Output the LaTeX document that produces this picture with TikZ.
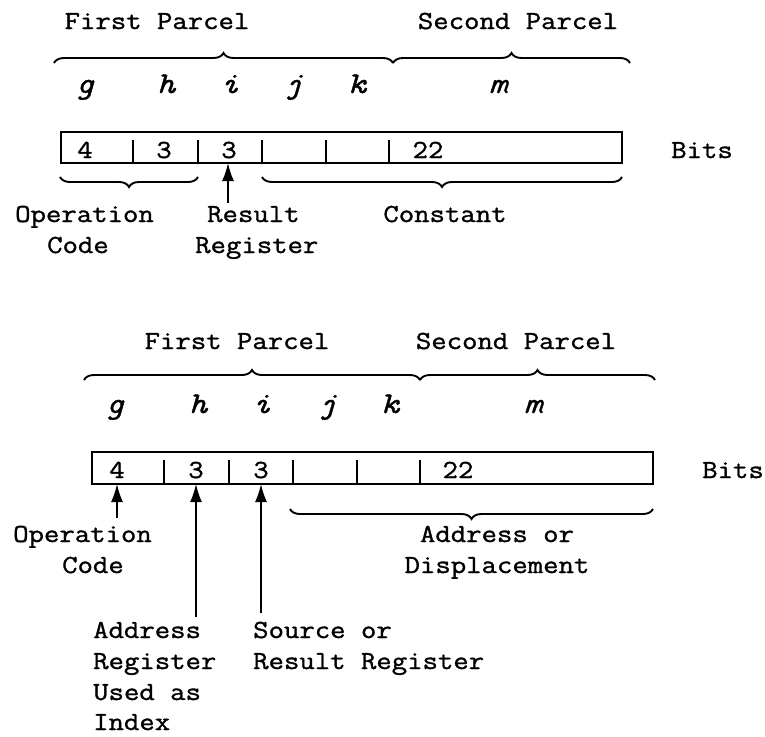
\documentclass[tikz,border=0pt]{standalone}
\usepackage{fontspec}
\setmainfont{Latin Modern Mono}[FakeStretch=1.15, FakeBold=1.2]
\usetikzlibrary{decorations.pathreplacing,arrows.meta}
\tikzset{
  txt/.style={font=\fontsize{26}{31}\selectfont, inner sep=0pt, anchor=base},
  txtw/.style={txt, anchor=base west},
  var/.style={txt, font=\fontsize{30}{34}\selectfont\itshape},
  brc/.style={decorate, decoration={brace, amplitude=10pt}, line width=1.9pt},
  boxline/.style={line width=1.6pt},
  divline/.style={line width=1.6pt},
  arr/.style={line width=1.7pt, -{Latex[length=18pt,width=12pt]}}
}
\begin{document}
\begin{tikzpicture}[x=1pt,y=-1pt]
\useasboundingbox (0,0) rectangle (765,736);
% ================= top format =================
\node[txt] (fp1) at (157,29) {First Parcel};
\node[txt] (sp1) at (518,29) {Second Parcel};
\draw[brc] (54,63) -- (393,63);
\draw[brc] (393,63) -- (630,63);
\node[var] (g1) at (85,93) {g};
\node[var] (h1) at (166,93) {h};
\node[var] (i1) at (230,93) {i};
\node[var] (j1) at (293,93) {j};
\node[var] (k1) at (357,93) {k};
\node[var] (m1) at (498,93) {m};
\draw[boxline] (61,132) rectangle (622,163);
\foreach \x in {133,198,262,326,389} \draw[divline] (\x,140) -- (\x,163);
\node[txt] (n4a) at (85,158) {4};
\node[txt] (n3a) at (164,158) {3};
\node[txt] (n3b) at (229,158) {3};
\node[txt] (n22a) at (428,158) {22};
\node[txt] (bits1) at (702,158) {Bits};
\draw[brc] (198,177) -- (60,177);
\draw[brc] (622,177) -- (262,177);
\node[txtw] (op1) at (15,222) {Operation};
\node[txtw] (cd1) at (47,253) {Code};
\node[txtw] (rs1) at (207,222) {Result};
\node[txtw] (rg1) at (195,253) {Register};
\node[txt] (cst1) at (445,222) {Constant};
\coordinate (a1s) at (228,203);
\coordinate (a1e) at (228,163);
\draw[arr] (a1s) -- (a1e);
% ================= bottom format =================
\node[txt] (fp2) at (237,349) {First Parcel};
\node[txt] (sp2) at (516,349) {Second Parcel};
\draw[brc] (84,380) -- (420,380);
\draw[brc] (420,380) -- (655,380);
\node[var] (g2) at (115,413) {g};
\node[var] (h2) at (198,413) {h};
\node[var] (i2) at (262,413) {i};
\node[var] (j2) at (327,413) {j};
\node[var] (k2) at (390,413) {k};
\node[var] (m2) at (533,413) {m};
\draw[boxline] (92,452) rectangle (653,484);
\foreach \x in {164,229,293,357,420} \draw[divline] (\x,460) -- (\x,484);
\node[txt] (n4c) at (117,478) {4};
\node[txt] (n3c) at (196,478) {3};
\node[txt] (n3d) at (261,478) {3};
\node[txt] (n22b) at (458,478) {22};
\node[txt] (bits2) at (733,478) {Bits};
\draw[brc] (653,509) -- (290,509);
\node[txtw] (op2) at (13,542) {Operation};
\node[txtw] (cd2) at (62,573) {Code};
\node[txt] (ad2) at (497,542) {Address or};
\node[txt] (dp2) at (497,573) {Displacement};
\node[txtw] (ar1) at (93,638) {Address};
\node[txtw] (ar2) at (93,669) {Register};
\node[txtw] (ar3) at (93,700) {Used as};
\node[txtw] (ar4) at (93,730) {Index};
\node[txtw] (sr1) at (253,638) {Source or};
\node[txtw] (sr2) at (253,669) {Result Register};
\coordinate (b1s) at (117,518);
\coordinate (b1e) at (117,484);
\coordinate (b2s) at (196,617);
\coordinate (b2e) at (196,484);
\coordinate (b3s) at (261,613);
\coordinate (b3e) at (261,484);
\draw[arr] (b1s) -- (b1e);
\draw[arr] (b2s) -- (b2e);
\draw[arr] (b3s) -- (b3e);
\end{tikzpicture}
\end{document}
